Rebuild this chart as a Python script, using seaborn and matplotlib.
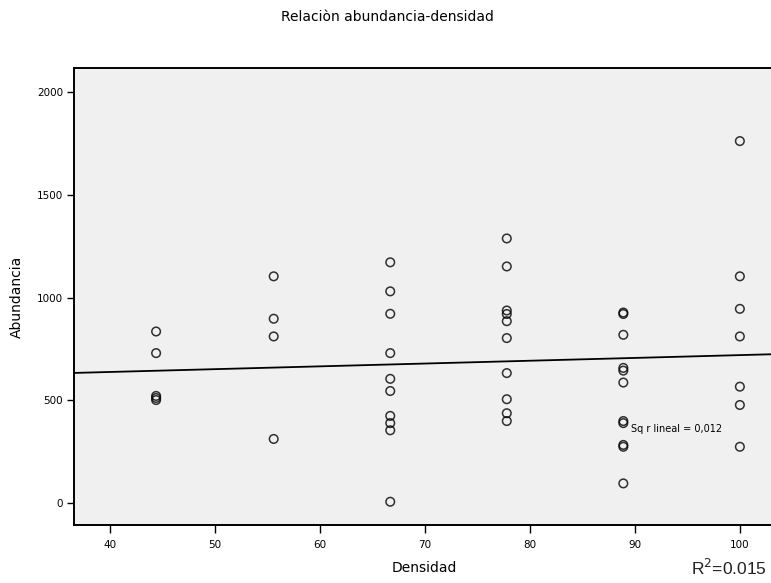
import matplotlib
matplotlib.use("Agg")
import matplotlib.pyplot as plt
import seaborn as sns
import pandas as pd

# ---- data ----
densidad_levels = [44.4, 55.6, 66.7, 77.8, 88.9, 100.0]
abund_44 = [835, 730, 522, 512, 502]
abund_56 = [1103, 897, 811, 313]
abund_67 = [1171, 1030, 921, 730, 605, 546, 425, 390, 355, 8]
abund_78 = [1287, 1151, 937, 920, 885, 803, 633, 506, 438, 400]
abund_89 = [927, 920, 819, 658, 645, 587, 400, 390, 284, 275, 97]
abund_100 = [1760, 1103, 945, 811, 567, 478, 275]

x_ticks = [40, 50, 60, 70, 80, 90, 100]
y_ticks = [0, 500, 1000, 1500, 2000]

title = "Relaciòn abundancia-densidad"
x_label = "Densidad"
y_label = "Abundancia"
fit_label = "Sq r lineal = 0,012"
r2_label = "R$^2$=0.015"

groups = [abund_44, abund_56, abund_67, abund_78, abund_89, abund_100]
rows = []
for d, vals in zip(densidad_levels, groups):
    for v in vals:
        rows.append({"Densidad": d, "Abundancia": v})
df = pd.DataFrame(rows)

sns.set_style("ticks")
plt.rcParams['font.family'] = ['DejaVu Sans']
plt.rcParams['text.color'] = 'black'

fig = plt.figure(figsize=(7.71, 5.83), dpi=100)
fig.patch.set_facecolor("white")
ax = fig.add_axes([74 / 771, 1 - 525 / 583, 1 - 74 / 771 + 0.01, (525 - 68) / 583])
ax.set_facecolor("#F0F0F0")

ax.set_xlim(36.58, 103.7)
ax.set_ylim(-105, 2115)

sns.regplot(data=df, x="Densidad", y="Abundancia", ax=ax, ci=None,
            truncate=False, color="black",
            scatter_kws=dict(facecolors="none", edgecolors="black", s=38,
                             linewidths=1.1, zorder=3),
            line_kws=dict(color="black", lw=1.3, zorder=2))

ax.set_xlim(36.58, 103.7)
ax.set_ylim(-105, 2115)
ax.set_xticks(x_ticks)
ax.set_yticks(y_ticks)
ax.tick_params(axis="both", direction="out", length=5, width=1,
               color="black", labelsize=7.5, labelcolor="black", pad=3)
ax.tick_params(axis="x", length=6, pad=5)

for s in ["left", "bottom", "top"]:
    ax.spines[s].set_color("black")
    ax.spines[s].set_linewidth(1.4)
ax.spines["right"].set_visible(False)

ax.set_xlabel("")
ax.set_ylabel("")
fig.text(424 / 771, 1 - 568 / 583, x_label, ha="center", va="center",
         fontsize=10, color="black")
fig.text(17 / 771, 1 - 297 / 583, y_label, ha="center", va="center",
         fontsize=10, rotation=90, color="black")
fig.text(387 / 771, 1 - 17 / 583, title, ha="center", va="center",
         fontsize=10, color="black")
ax.text(89.6, 361, fit_label, ha="left", va="center", fontsize=7,
        color="black", zorder=4)
fig.text(767 / 771, 1 - 568 / 583, r2_label, ha="right", va="center",
         fontsize=12.5, family=["Liberation Sans", "DejaVu Sans"],
         color="#222222")

fig.savefig("out.png", dpi=100)
